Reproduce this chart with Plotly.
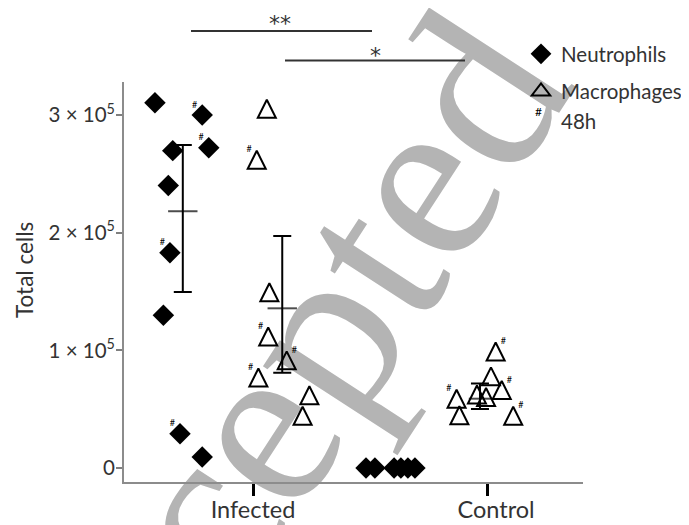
import plotly.graph_objects as go

# ---------------- data ----------------
categories = ["Infected", "Control"]
cat_pos = [1, 2]

# Neutrophils – infected (x = jitter offset from category centre)
neut_inf_offset = [-0.419, -0.217, -0.343, -0.189, -0.362, -0.355, -0.383, -0.312, -0.217]
neut_inf_vals = [310400, 300000, 269700, 272200, 240100, 183000, 129800, 29100, 9300]
neut_inf_48h = [False, True, False, True, False, True, False, True, False]

# Macrophages – infected
mac_inf_offset = [0.059, 0.016, 0.070, 0.065, 0.144, 0.023, 0.241, 0.212]
mac_inf_vals = [305300, 262000, 149300, 111800, 91500, 76900, 61800, 44400]
mac_inf_48h = [False, True, False, True, True, True, False, False]

# Neutrophils – control
neut_ctl_offset = [-0.517, -0.479, -0.397, -0.368, -0.338, -0.308]
neut_ctl_vals = [0, 0, 0, 0, 0, 0]

# Macrophages – control
mac_ctl_offset = [0.037, 0.017, 0.063, -0.130, -0.118, 0.112, -0.043, -0.004]
mac_ctl_vals = [99000, 77900, 66300, 58900, 44800, 44400, 62500, 60300]
mac_ctl_48h = [True, False, True, True, False, True, False, False]

# mean with error (as drawn)
err_offset = [-0.300, 0.125, -0.030]
err_cat = [0, 0, 1]
err_mean = [218200, 135700, 58900]
err_plus = [56300, 61500, 12900]
err_minus = [68600, 54700, 8800]

y_tickvals = [0, 100000, 200000, 300000]
y_ticktext = ["0", "1 \u00d7 10<sup>5</sup>", "2 \u00d7 10<sup>5</sup>", "3 \u00d7 10<sup>5</sup>"]

# ---------------- layout helpers ----------------
# the page body keeps an 8px margin, so the figure is 8px smaller than the window
W, H = 681, 517
ML, MR, MT, MB = 116, 106, 74, 43
PW = W - ML - MR   # 459
PH = H - MT - MB   # 400
PLOT_LEFT, PLOT_BOTTOM = 124, 482   # in window pixels


def px(X):
    return (X - PLOT_LEFT) / PW


def py(Y):
    return (PLOT_BOTTOM - Y) / PH


FONT = "Lato, Carlito, Calibri, sans-serif"
TXT = "#333333"


def xvals(ci, offs):
    return [cat_pos[ci] + o for o in offs]


fig = go.Figure()

tri_marker = dict(symbol="arrow-down-open", angle=180, standoff=9, size=18,
                  color="black", line=dict(color="black", width=2))
dia_marker = dict(symbol="diamond", size=16.5, color="black", line=dict(width=0))

fig.add_trace(go.Scatter(x=xvals(0, neut_inf_offset), y=neut_inf_vals, mode="markers",
                         marker=dia_marker, showlegend=False, cliponaxis=False))
fig.add_trace(go.Scatter(x=xvals(1, neut_ctl_offset), y=neut_ctl_vals, mode="markers",
                         marker=dia_marker, showlegend=False, cliponaxis=False))
fig.add_trace(go.Scatter(x=xvals(0, mac_inf_offset), y=mac_inf_vals, mode="markers",
                         marker=tri_marker, showlegend=False, cliponaxis=False))
fig.add_trace(go.Scatter(x=xvals(1, mac_ctl_offset), y=mac_ctl_vals, mode="markers",
                         marker=tri_marker, showlegend=False, cliponaxis=False))

# mean line with error bars
fig.add_trace(go.Scatter(
    x=[cat_pos[c] + o for c, o in zip(err_cat, err_offset)], y=err_mean, mode="markers",
    marker=dict(symbol="line-ew-open", size=[21, 21, 16], color="black",
                line=dict(color="black", width=2)),
    error_y=dict(type="data", symmetric=False, array=err_plus, arrayminus=err_minus,
                 width=9, thickness=2, color="black"),
    showlegend=False, cliponaxis=False))

# "#" tags for 48h samples
hx, hy, hpos = [], [], []
for ci, offs, vals, flags, side in [
    (0, neut_inf_offset, neut_inf_vals, neut_inf_48h, ["top left"] * 9),
    (0, mac_inf_offset, mac_inf_vals, mac_inf_48h,
     ["top left", "top left", "top left", "top left", "top right", "top left", "top left", "top left"]),
    (1, mac_ctl_offset, mac_ctl_vals, mac_ctl_48h,
     ["top right", "top right", "top right", "top left", "top right", "top right", "top right", "top right"]),
]:
    for o, v, f, s in zip(offs, vals, flags, side):
        if f:
            hx.append(cat_pos[ci] + o)
            hy.append(v)
            hpos.append(s)
fig.add_trace(go.Scatter(x=hx, y=hy, mode="markers+text", text=["#"] * len(hx),
                         textposition=hpos, textfont=dict(size=9, color="black", family=FONT),
                         marker=dict(size=6.5, color="rgba(0,0,0,0)"),
                         showlegend=False, cliponaxis=False))

# legend entries
fig.add_trace(go.Scatter(x=[None], y=[None], mode="markers", name="Neutrophils",
                         marker=dict(symbol="diamond", size=16, color="black"),
                         legendgroup="n", legend="legend"))
fig.add_trace(go.Scatter(x=[None], y=[None], mode="markers", name="Macrophages",
                         marker=dict(symbol="triangle-up-open", size=16, color="black",
                                     line=dict(color="black", width=2)),
                         legendgroup="m", legend="legend"))
fig.add_trace(go.Scatter(x=[None], y=[None], mode="markers", name="48h",
                         marker=dict(size=8, color="rgba(0,0,0,0)"),
                         legend="legend2"))

fig.update_layout(
    width=W, height=H,
    margin=dict(l=ML, r=MR, t=MT, b=MB, pad=0, autoexpand=False),
    paper_bgcolor="white", plot_bgcolor="rgba(0,0,0,0)",
    font=dict(family=FONT, color=TXT),
    xaxis=dict(range=[1 - (253 - PLOT_LEFT) / 234, 1 + (583 - 253) / 234],
               tickvals=cat_pos,
               ticktext=[categories[0], "&nbsp;&nbsp;&nbsp;" + categories[1]],
               ticks="outside", ticklen=12,
               tickwidth=2.5, tickcolor="black", showline=True, linecolor="#8c8c8c",
               linewidth=2, showgrid=False, zeroline=False, ticklabelstandoff=-6,
               tickfont=dict(size=23.5, color=TXT, family=FONT)),
    yaxis=dict(range=[-(PLOT_BOTTOM - 468) / 117.67 * 1e5, (468 - 82) / 117.67 * 1e5],
               tickvals=y_tickvals, ticktext=y_ticktext, ticks="outside", ticklen=6,
               tickwidth=2, tickcolor="#7f7f7f", showline=True, linecolor="#8c8c8c",
               linewidth=2, showgrid=False, zeroline=False, ticklabelstandoff=-3,
               tickfont=dict(size=20.5, color=TXT, family=FONT)),
    legend=dict(x=px(521), y=py(34), xanchor="left", yanchor="top",
                bgcolor="rgba(0,0,0,0)", font=dict(size=20.5, color=TXT, family=FONT),
                tracegroupgap=8, itemsizing="trace"),
    legend2=dict(x=px(521), y=py(101), xanchor="left", yanchor="top",
                 bgcolor="rgba(0,0,0,0)", font=dict(size=20.5, color=TXT, family=FONT)),
    showlegend=True,
)

fig.add_annotation(text="Total cells", xref="paper", yref="paper", x=px(24), y=py(270),
                   textangle=-90, showarrow=False, xanchor="center", yanchor="middle",
                   font=dict(size=22.5, color=TXT, family=FONT))
fig.add_annotation(text="#", xref="paper", yref="paper", x=px(538), y=py(112),
                   showarrow=False, xanchor="center", yanchor="middle",
                   font=dict(size=12, color="black", family=FONT))

# significance bars
for x0, x1, yy in [(191, 372, 31), (285, 465, 60.5)]:
    fig.add_shape(type="line", xref="paper", yref="paper", x0=px(x0), x1=px(x1),
                  y0=py(yy), y1=py(yy), line=dict(color="#333333", width=2))
fig.add_annotation(text="**", xref="paper", yref="paper", x=px(280), y=py(24),
                   showarrow=False, xanchor="center", yanchor="middle",
                   font=dict(size=22, color="#333333", family="DejaVu Sans"))
fig.add_annotation(text="*", xref="paper", yref="paper", x=px(375), y=py(55),
                   showarrow=False, xanchor="center", yanchor="middle",
                   font=dict(size=22, color="#333333", family="DejaVu Sans"))

# watermark (behind the data)
WX, WY = 241, 406
fig.add_shape(type="rect", xref="paper", yref="paper", x0=px(WX - 1), x1=px(WX + 1),
              y0=py(WY + 1), y1=py(WY - 1), line=dict(width=0), fillcolor="rgba(0,0,0,0)",
              layer="below",
              label=dict(text="Accepted", textangle=-57, textposition="middle center",
                         font=dict(size=240, color="#b4b4b4", family="Liberation Serif")))

fig.write_html("out.html")
